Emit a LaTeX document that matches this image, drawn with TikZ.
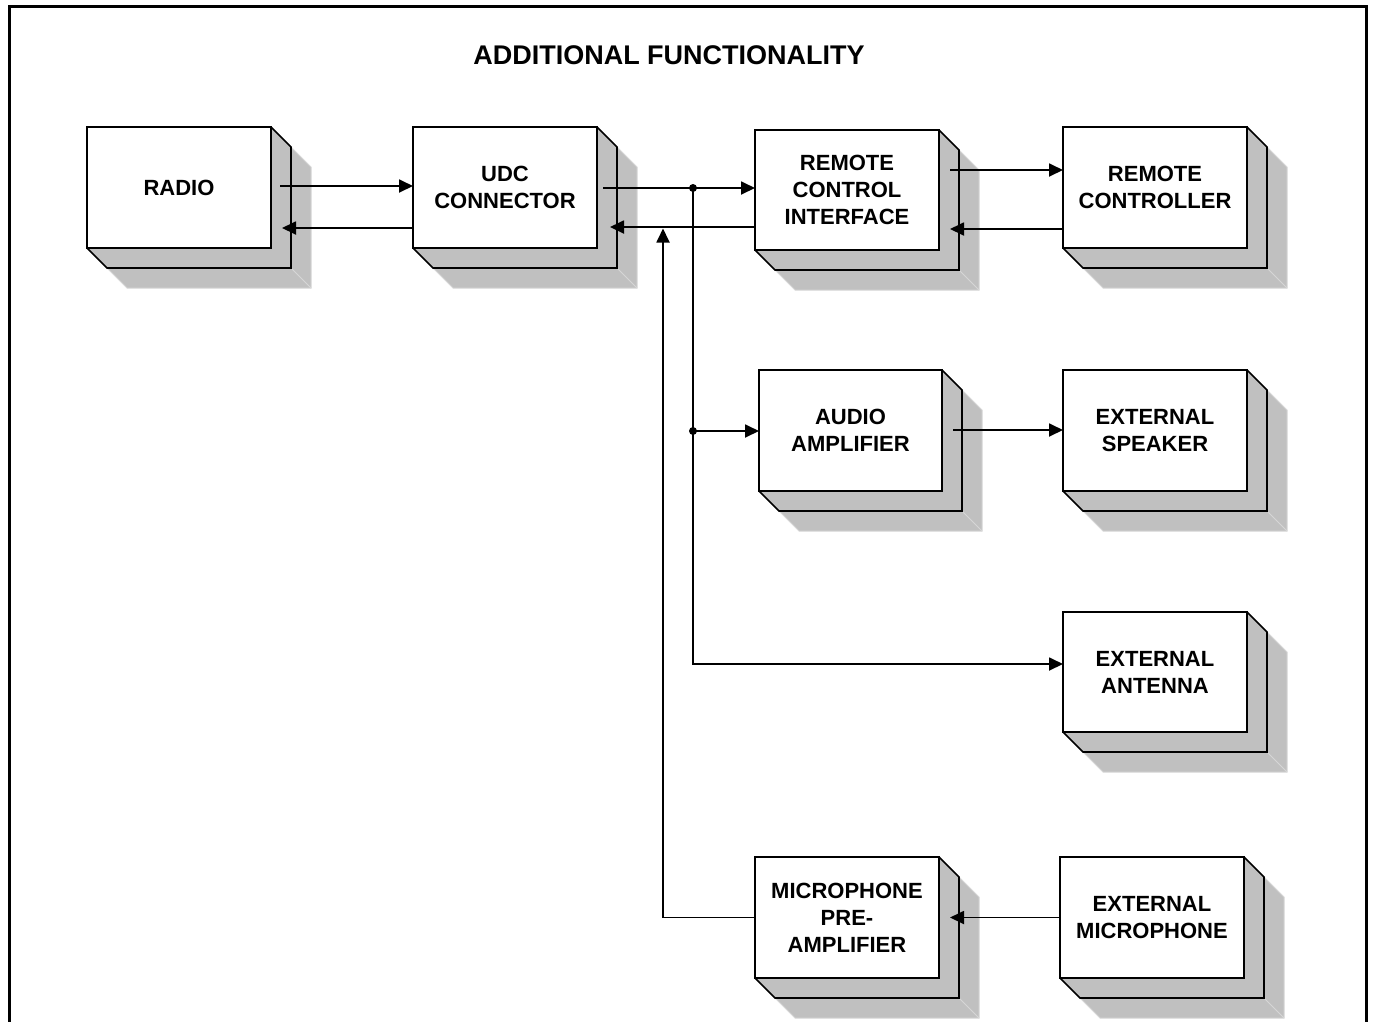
\documentclass[tikz,border=0pt]{standalone}
\usepackage{fontspec}
\setmainfont{Liberation Sans}
\usetikzlibrary{arrows.meta,backgrounds}
\definecolor{shadowgray}{RGB}{192,192,192}
\definecolor{lightedge}{RGB}{214,214,214}
\tikzset{
  box/.style={draw, line width=2.2pt, fill=white, minimum width=184pt, minimum height=121pt,
    inner sep=0pt, outer sep=0pt, align=center, font=\fontsize{22}{27}\selectfont\bfseries},
  conn/.style={line width=1.8pt},
  arr/.style={conn, -{Triangle[length=14pt,width=13pt]}},
  frameline/.style={line width=3pt},
  dot/.style={circle, fill, inner sep=0pt, minimum size=8pt},
}
\begin{document}
\begin{tikzpicture}[x=1pt,y=-1pt]
\useasboundingbox (0,0) rectangle (1374,1021);
\draw[frameline] (9.5,1030) -- (9.5,6.5) -- (1366.5,6.5) -- (1366.5,1030);
\node[anchor=base, font=\fontsize{27}{30}\selectfont\bfseries] (title) at (669,64) {ADDITIONAL FUNCTIONALITY};

\node[box] (radio) at (179,187.5) {RADIO};
\node[box] (udc) at (505,187.5) {UDC\\CONNECTOR};
\node[box, minimum height=120pt] (rci) at (847,190) {REMOTE\\CONTROL\\INTERFACE};
\node[box] (rc) at (1155,187.5) {REMOTE\\CONTROLLER};
\node[box, minimum width=183pt] (aa) at (850.5,430.5) {AUDIO\\AMPLIFIER};
\node[box] (es) at (1155,430.5) {EXTERNAL\\SPEAKER};
\node[box, minimum height=120pt] (ant) at (1155,672) {EXTERNAL\\ANTENNA};
\node[box] (mic) at (847,917.5) {MICROPHONE\\PRE-\\AMPLIFIER};
\node[box] (emic) at (1152,917.5) {EXTERNAL\\MICROPHONE};

\begin{scope}[on background layer]
\foreach \n in {radio,udc,rci,rc,aa,es,ant,mic,emic}{
  \fill[shadowgray] (\n.north east) -- ([shift={(40,40)}]\n.north east) -- ([shift={(40,40)}]\n.south east)
     -- ([shift={(40,40)}]\n.south west) -- (\n.south west) -- (\n.south east) -- cycle;
  \draw[lightedge, line width=1pt] ([shift={(20,20)}]\n.north east) -- ([shift={(40,40)}]\n.north east)
     -- ([shift={(40,40)}]\n.south east) -- ([shift={(40,40)}]\n.south west) -- ([shift={(20,20)}]\n.south west);
  \draw[lightedge, line width=1pt] ([shift={(20,20)}]\n.south east) -- ([shift={(40,40)}]\n.south east);
  \draw[line width=1.6pt] (\n.north east) -- ([shift={(20,20)}]\n.north east) -- ([shift={(20,20)}]\n.south east)
     -- ([shift={(20,20)}]\n.south west) -- (\n.south west);
}
\end{scope}

\coordinate (j1) at (693,188);
\coordinate (j2) at (693,431);
\coordinate (up) at (663,228.5);

\draw[arr] ([xshift=9pt,yshift=1.5pt]radio.east) -- ([yshift=1.5pt]udc.west);
\draw[arr] ([yshift=-40.5pt]udc.west) -- ([xshift=11pt,yshift=-40.5pt]radio.east);
\draw[conn] ([xshift=6pt,yshift=-0.5pt]udc.east) -- (j1);
\draw[arr] (j1) -- (j1 -| rci.west);
\draw[arr] ([yshift=-37pt]rci.west) -- ([xshift=13pt,yshift=-39.5pt]udc.east);
\draw[arr] (j1) |- ([yshift=8pt]ant.west);
\draw[arr] (j2) -- (j2 -| aa.west);
\node[dot] (d1) at (j1) {};
\node[dot] (d2) at (j2) {};
\draw[arr] (mic.west) -| (up);
\draw[arr] ([xshift=11pt,yshift=20pt]rci.east) -- ([yshift=17.5pt]rc.west);
\draw[arr] ([yshift=-41.5pt]rc.west) -- ([xshift=11pt,yshift=-39pt]rci.east);
\draw[arr] ([xshift=11pt,yshift=0.5pt]aa.east) -- ([yshift=0.5pt]es.west);
\draw[arr] (emic.west) -- ([xshift=11pt]mic.east);
\end{tikzpicture}
\end{document}
